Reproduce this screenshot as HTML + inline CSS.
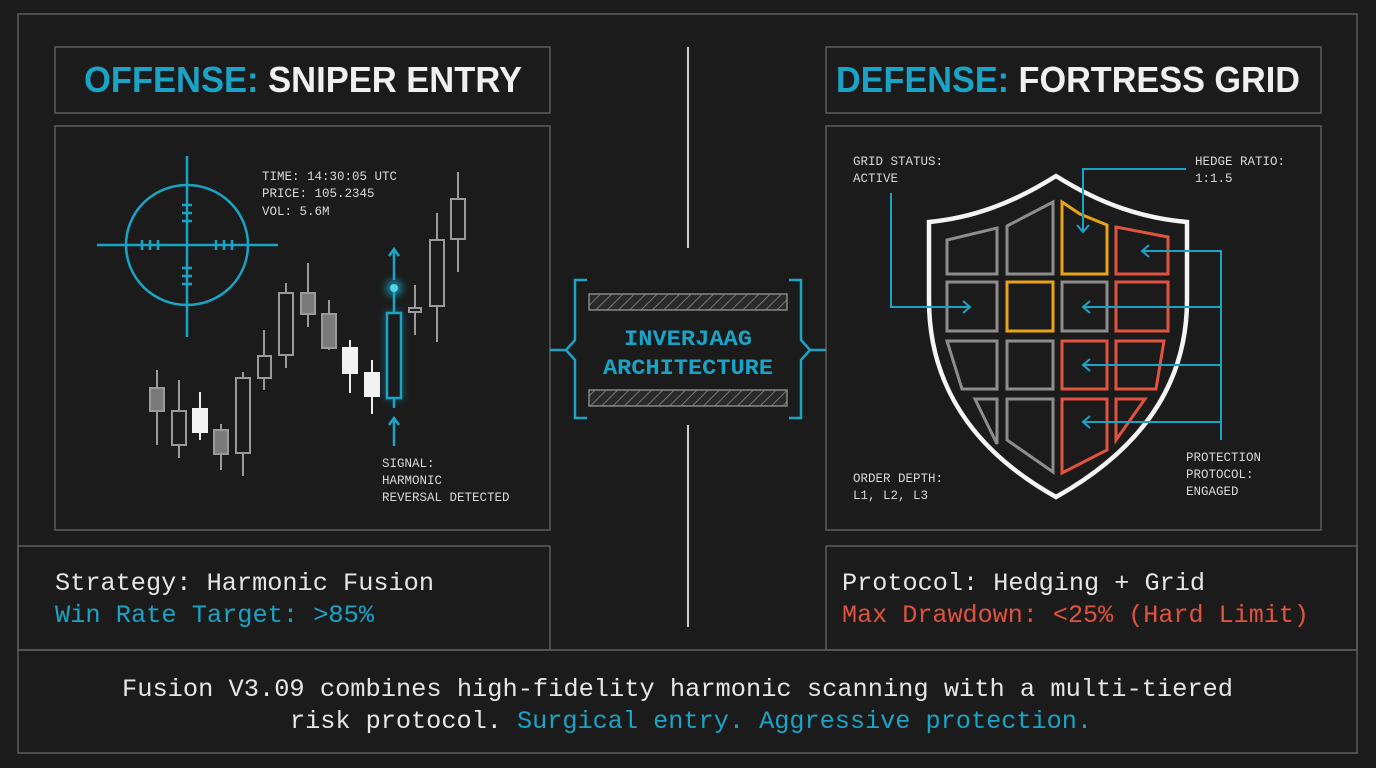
<!DOCTYPE html>
<html><head><meta charset="utf-8"><style>
html,body{margin:0;padding:0;background:#1b1b1b;}
svg{display:block}
.m{font-family:"Liberation Mono",monospace;}
.s{font-family:"Liberation Sans",sans-serif;font-weight:bold;}
</style></head><body>
<svg width="1376" height="768" viewBox="0 0 1376 768" xmlns="http://www.w3.org/2000/svg">
<defs>
<pattern id="h" width="8" height="8" patternUnits="userSpaceOnUse" patternTransform="rotate(45)"><rect width="8" height="8" fill="#2a2a2a"/><line x1="0" y1="0" x2="0" y2="8" stroke="#777" stroke-width="2"/></pattern>
<filter id="g" x="-100%" y="-100%" width="300%" height="300%"><feGaussianBlur stdDeviation="4"/></filter>
</defs>
<rect width="1376" height="768" fill="#1b1b1b"/>
<g fill="none" stroke="#5c5c5c" stroke-width="1.5">
<rect x="18" y="14" width="1339" height="739"/>
<rect x="55" y="47" width="495" height="66"/>
<rect x="55" y="126" width="495" height="404"/>
<rect x="826" y="47" width="495" height="66"/>
<rect x="826" y="126" width="495" height="404"/>
<rect x="18" y="546" width="532" height="104"/>
<rect x="826" y="546" width="531" height="104"/>
<line x1="18" y1="650" x2="1357" y2="650"/>
</g>
<!-- titles -->
<text x="84" y="92" class="s" font-size="36" textLength="438" lengthAdjust="spacingAndGlyphs"><tspan fill="#1ba3c6">OFFENSE:</tspan><tspan fill="#f0f0f0"> SNIPER ENTRY</tspan></text>
<text x="836" y="92" class="s" font-size="36" textLength="464" lengthAdjust="spacingAndGlyphs"><tspan fill="#1ba3c6">DEFENSE:</tspan><tspan fill="#f0f0f0"> FORTRESS GRID</tspan></text>
<!-- center -->
<g stroke="#cfcfcf" stroke-width="2"><line x1="688" y1="47" x2="688" y2="248"/><line x1="688" y1="425" x2="688" y2="627"/></g>
<g stroke="#1ba3c6" stroke-width="2.5" fill="none">
<line x1="550" y1="350" x2="566" y2="350"/>
<path d="M587,280 H575 V340 L566,350 L575,360 V418 H587"/>
<path d="M789,280 H801 V340 L810,350 L801,360 V418 H789"/>
<line x1="810" y1="350" x2="826" y2="350"/>
</g>
<rect x="589" y="294" width="198" height="16" fill="url(#h)" stroke="#888" stroke-width="1.5"/>
<rect x="589" y="390" width="198" height="16" fill="url(#h)" stroke="#888" stroke-width="1.5"/>
<text x="688" y="345" text-anchor="middle" class="m" font-weight="bold" font-size="22" fill="#1ba3c6" textLength="128" lengthAdjust="spacingAndGlyphs">INVERJAAG</text>
<text x="688" y="374" text-anchor="middle" class="m" font-weight="bold" font-size="22" fill="#1ba3c6" textLength="170" lengthAdjust="spacingAndGlyphs">ARCHITECTURE</text>
<!-- crosshair -->
<g stroke="#1ba3c6" stroke-width="2.5" fill="none">
<ellipse cx="187" cy="245" rx="61" ry="60"/>
<line x1="97" y1="245" x2="278" y2="245"/><line x1="187" y1="156" x2="187" y2="337"/>
<path d="M142,240v10M150,240v10M158,240v10M216,240v10M224,240v10M232,240v10M182,205h10M182,213h10M182,221h10M182,268h10M182,276h10M182,284h10"/>
</g>
<g class="m" font-size="12.5" fill="#d8d8d8">
<text x="262" y="180">TIME: 14:30:05 UTC</text>
<text x="262" y="197">PRICE: 105.2345</text>
<text x="262" y="215">VOL: 5.6M</text>
<text x="382" y="467">SIGNAL:</text>
<text x="382" y="484">HARMONIC</text>
<text x="382" y="501">REVERSAL DETECTED</text>
</g>
<!-- candles -->
<g stroke="#9a9a9a" stroke-width="2">
<line x1="157" y1="370" x2="157" y2="445"/><rect x="150" y="388" width="14" height="23" fill="#7a7a7a"/>
<line x1="179" y1="380" x2="179" y2="458"/><rect x="172" y="411" width="14" height="34" fill="#1b1b1b"/>
<line x1="200" y1="392" x2="200" y2="440" stroke="#eee"/><rect x="193" y="409" width="14" height="23" fill="#f2f2f2" stroke="#f2f2f2"/>
<line x1="221" y1="424" x2="221" y2="470"/><rect x="214" y="430" width="14" height="24" fill="#7a7a7a"/>
<line x1="243" y1="372" x2="243" y2="476"/><rect x="236" y="378" width="14" height="75" fill="#1b1b1b"/>
<line x1="264" y1="330" x2="264" y2="390"/><rect x="258" y="356" width="13" height="22" fill="#1b1b1b"/>
<line x1="286" y1="283" x2="286" y2="368"/><rect x="279" y="293" width="14" height="62" fill="#1b1b1b"/>
<line x1="308" y1="263" x2="308" y2="327"/><rect x="301" y="293" width="14" height="21" fill="#7a7a7a"/>
<line x1="329" y1="300" x2="329" y2="350"/><rect x="322" y="314" width="14" height="34" fill="#7a7a7a"/>
<line x1="350" y1="340" x2="350" y2="393" stroke="#eee"/><rect x="343" y="348" width="14" height="25" fill="#f2f2f2" stroke="#f2f2f2"/>
<line x1="372" y1="360" x2="372" y2="414" stroke="#eee"/><rect x="365" y="373" width="14" height="23" fill="#f2f2f2" stroke="#f2f2f2"/>
<line x1="415" y1="285" x2="415" y2="335"/><rect x="409" y="308" width="12" height="4" fill="#1b1b1b"/>
<line x1="437" y1="213" x2="437" y2="342"/><rect x="430" y="240" width="14" height="66" fill="#1b1b1b"/>
<line x1="458" y1="172" x2="458" y2="272"/><rect x="451" y="199" width="14" height="40" fill="#1b1b1b"/>
</g>
<g stroke="#1ba3c6" stroke-width="2.5" fill="none">
<rect x="387" y="313" width="14" height="85" filter="url(#g)" opacity="0.8"/>
<circle cx="394" cy="288" r="8" fill="#1ba3c6" filter="url(#g)" opacity="0.8" stroke="none"/>
<line x1="394" y1="290" x2="394" y2="408"/>
<rect x="387" y="313" width="14" height="85" fill="#1b1b1b"/>
<circle cx="394" cy="288" r="4" fill="#4fd4ee" stroke="none"/>
<path d="M394,280V250M389,256L394,249L399,256"/>
<path d="M394,446V419M389,425L394,418L399,425"/>
</g>
<!-- shield -->
<path d="M1056,176 C1010,205 970,218 929,222 L929,300 C929,400 990,460 1056,497 C1122,460 1187,400 1187,300 L1187,222 C1143,218 1102,205 1056,176 Z" fill="#1b1b1b" stroke="#f4f4f4" stroke-width="4.5"/>
<g fill="none" stroke-width="3">
<g stroke="#8d8d8d">
<path d="M947,240 L997,228 V274 H947 Z"/>
<path d="M1007,226 L1053,202 V274 H1007 Z"/>
<path d="M947,282 H997 V331 H947 Z"/>
<path d="M1062,282 H1107 V331 H1062 Z"/>
<path d="M947,341 H997 V389 H962 Z"/>
<path d="M1007,341 H1053 V389 H1007 Z"/>
<path d="M975,399 L997,399 V444 Z"/>
<path d="M1007,399 H1053 V472 L1007,440 Z"/>
</g>
<g stroke="#e8a317">
<path d="M1062,202 L1080,214 L1107,225 V274 H1062 Z"/>
<path d="M1007,282 H1053 V331 H1007 Z"/>
</g>
<g stroke="#e0533f">
<path d="M1116,227 L1168,237 V274 H1116 Z"/>
<path d="M1116,282 H1168 V331 H1116 Z"/>
<path d="M1062,341 H1107 V389 H1062 Z"/>
<path d="M1116,341 H1164 L1156,389 H1116 Z"/>
<path d="M1062,399 H1107 V450 L1062,473 Z"/>
<path d="M1116,399 H1145 L1116,440 Z"/>
</g>
</g>
<g stroke="#1ba3c6" stroke-width="2" fill="none">
<path d="M891,193 V307 H970"/><path d="M963,301 L970,307 L963,313"/>
<path d="M1186,169 H1083 V232"/><path d="M1077,225 L1083,232 L1089,225"/>
<path d="M1221,250 V440"/>
<path d="M1221,251 H1142"/><path d="M1149,245 L1142,251 L1149,257"/>
<path d="M1221,307 H1083"/><path d="M1090,301 L1083,307 L1090,313"/>
<path d="M1221,365 H1083"/><path d="M1090,359 L1083,365 L1090,371"/>
<path d="M1221,422 H1083"/><path d="M1090,416 L1083,422 L1090,428"/>
</g>
<g class="m" font-size="12.5" fill="#d8d8d8">
<text x="853" y="165">GRID STATUS:</text>
<text x="853" y="182">ACTIVE</text>
<text x="1195" y="165">HEDGE RATIO:</text>
<text x="1195" y="182">1:1.5</text>
<text x="853" y="482">ORDER DEPTH:</text>
<text x="853" y="499">L1, L2, L3</text>
<text x="1186" y="461">PROTECTION</text>
<text x="1186" y="478">PROTOCOL:</text>
<text x="1186" y="495">ENGAGED</text>
</g>
<!-- bottom -->
<g class="m" font-size="25">
<text x="55" y="590" fill="#e6e6e6" textLength="379" lengthAdjust="spacingAndGlyphs">Strategy: Harmonic Fusion</text>
<text x="55" y="622" fill="#1ba3c6" textLength="319" lengthAdjust="spacingAndGlyphs">Win Rate Target: &gt;85%</text>
<text x="842" y="590" fill="#e6e6e6" textLength="363" lengthAdjust="spacingAndGlyphs">Protocol: Hedging + Grid</text>
<text x="842" y="622" fill="#e0533f" textLength="467" lengthAdjust="spacingAndGlyphs">Max Drawdown: &lt;25% (Hard Limit)</text>
<text x="122" y="696" fill="#e6e6e6" textLength="1111" lengthAdjust="spacingAndGlyphs">Fusion V3.09 combines high-fidelity harmonic scanning with a multi-tiered</text>
<text x="290" y="728" fill="#e6e6e6" textLength="802" lengthAdjust="spacingAndGlyphs">risk protocol. <tspan fill="#1ba3c6">Surgical entry. Aggressive protection.</tspan></text>
</g>
</svg>
</body></html>
